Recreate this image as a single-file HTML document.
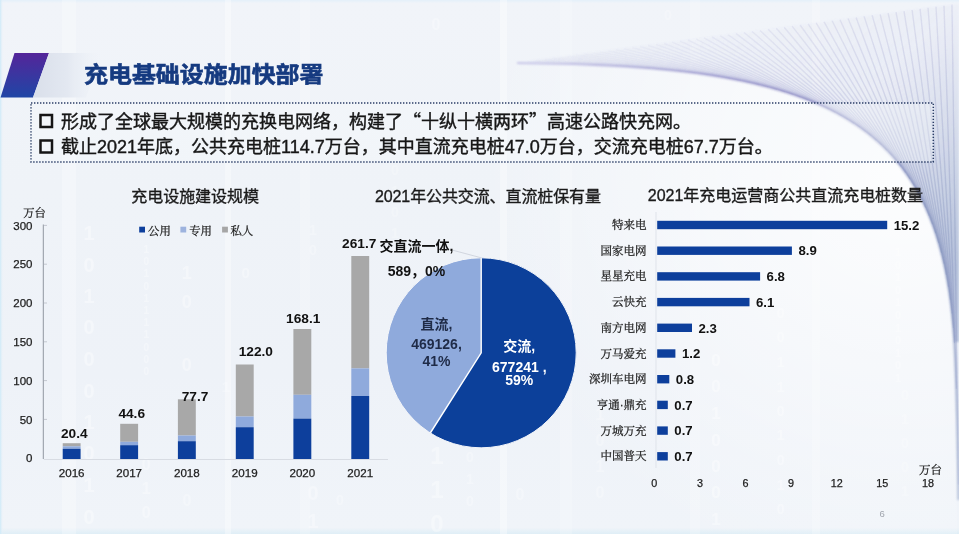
<!DOCTYPE html>
<html lang="zh"><head><meta charset="utf-8"><title>充电基础设施加快部署</title>
<style>
html,body{margin:0;padding:0;background:#eff3f8;}
body{width:959px;height:534px;overflow:hidden;position:relative;}
svg{display:block;position:absolute;left:0;top:0;filter:blur(0.5px);}
text{font-family:"Liberation Sans","Noto Sans CJK SC",sans-serif;paint-order:stroke;}
.t text{stroke:#1a1a1a;stroke-width:0.35px;}
.b{font-weight:bold;}
.s{font-family:"Liberation Sans","Noto Serif CJK SC","Noto Sans CJK SC",serif;}
.q{font-family:"Noto Sans CJK SC",sans-serif;}
</style></head><body>
<svg width="959" height="534" viewBox="0 0 959 534">
<defs>
<linearGradient id="bg" x1="0" y1="0" x2="0" y2="1">
<stop offset="0" stop-color="#e4f0fa"/><stop offset="0.006" stop-color="#f1f4f9"/><stop offset="0.35" stop-color="#eff3f8"/><stop offset="0.7" stop-color="#eef2f8"/><stop offset="0.988" stop-color="#f0f4f9"/><stop offset="1" stop-color="#dfeef6"/>
</linearGradient>
<linearGradient id="pg" x1="0" y1="0" x2="0" y2="1">
<stop offset="0" stop-color="#54259a"/><stop offset="0.5" stop-color="#3a36a0"/><stop offset="1" stop-color="#1f46a6"/>
</linearGradient>
<linearGradient id="sh" x1="0" y1="0" x2="1" y2="0">
<stop offset="0" stop-color="#d9dfea"/><stop offset="0.5" stop-color="#e3e8f1"/><stop offset="1" stop-color="#eef2f8" stop-opacity="0"/>
</linearGradient>
<linearGradient id="le" x1="0" y1="0" x2="1" y2="0">
<stop offset="0" stop-color="#cdeaf8"/><stop offset="1" stop-color="#eef2f8" stop-opacity="0"/>
</linearGradient>
<radialGradient id="fg" gradientUnits="userSpaceOnUse" cx="958" cy="230" r="430">
<stop offset="0" stop-color="#8090b8" stop-opacity="0.36"/><stop offset="0.5" stop-color="#8c8cc4" stop-opacity="0.19"/><stop offset="0.8" stop-color="#9494cc" stop-opacity="0.08"/><stop offset="1" stop-color="#9a9ad0" stop-opacity="0.01"/>
</radialGradient>
<linearGradient id="wg" gradientUnits="userSpaceOnUse" x1="700" y1="0" x2="960" y2="260">
<stop offset="0" stop-color="#c9c8e6" stop-opacity="0"/><stop offset="0.5" stop-color="#c4c6e4" stop-opacity="0.08"/><stop offset="0.8" stop-color="#b0bcd8" stop-opacity="0.5"/><stop offset="1" stop-color="#a8b6d4" stop-opacity="0.8"/>
</linearGradient>
<radialGradient id="ug" gradientUnits="userSpaceOnUse" cx="900" cy="170" r="420">
<stop offset="0" stop-color="#ffffff" stop-opacity="0.85"/><stop offset="0.5" stop-color="#ffffff" stop-opacity="0.45"/><stop offset="1" stop-color="#ffffff" stop-opacity="0"/>
</radialGradient>
<linearGradient id="cs" gradientUnits="userSpaceOnUse" x1="517" y1="0" x2="959" y2="0">
<stop offset="0" stop-color="#aaa6dc"/><stop offset="0.6" stop-color="#8a86c2"/><stop offset="1" stop-color="#8496be"/>
</linearGradient>
<filter id="bl"><feGaussianBlur stdDeviation="0.5"/></filter>
<filter id="bl2"><feGaussianBlur stdDeviation="1.2"/></filter>
</defs>
<rect width="959" height="534" fill="url(#bg)"/>
<rect width="3.5" height="534" fill="url(#le)"/>

<g fill="#ffffff" text-anchor="middle" font-weight="bold" filter="url(#bl)">
<text x="89" y="240" font-size="20" fill-opacity="0.36">1</text>
<text x="89" y="272" font-size="20" fill-opacity="0.36">0</text>
<text x="89" y="303" font-size="20" fill-opacity="0.36">1</text>
<text x="89" y="334" font-size="20" fill-opacity="0.36">0</text>
<text x="89" y="366" font-size="20" fill-opacity="0.36">0</text>
<text x="89" y="398" font-size="20" fill-opacity="0.36">0</text>
<text x="89" y="429" font-size="20" fill-opacity="0.36">1</text>
<text x="89" y="460" font-size="20" fill-opacity="0.36">0</text>
<text x="89" y="492" font-size="20" fill-opacity="0.36">1</text>
<text x="89" y="524" font-size="20" fill-opacity="0.36">0</text>
<text x="146.2" y="253" font-size="10" fill-opacity="0.32">1</text>
<text x="146.2" y="265" font-size="10" fill-opacity="0.32">0</text>
<text x="146.2" y="277" font-size="10" fill-opacity="0.32">1</text>
<text x="146.2" y="290" font-size="10" fill-opacity="0.32">0</text>
<text x="146.2" y="302" font-size="10" fill-opacity="0.32">1</text>
<text x="146.2" y="314" font-size="10" fill-opacity="0.32">1</text>
<text x="146.2" y="326" font-size="10" fill-opacity="0.32">1</text>
<text x="146.2" y="338" font-size="10" fill-opacity="0.32">1</text>
<text x="146.2" y="351" font-size="10" fill-opacity="0.32">0</text>
<text x="146.2" y="363" font-size="10" fill-opacity="0.32">0</text>
<text x="146.2" y="375" font-size="10" fill-opacity="0.32">0</text>
<text x="146.2" y="470" font-size="16" fill-opacity="0.3">0</text>
<text x="146.2" y="494" font-size="16" fill-opacity="0.3">1</text>
<text x="146.2" y="518" font-size="16" fill-opacity="0.3">0</text>
<text x="186.7" y="279" font-size="18" fill-opacity="0.34">1</text>
<text x="186.7" y="308" font-size="18" fill-opacity="0.34">0</text>
<text x="186.7" y="371" font-size="18" fill-opacity="0.34">0</text>
<text x="187" y="480" font-size="16" fill-opacity="0.26">1</text>
<text x="187" y="506" font-size="16" fill-opacity="0.26">0</text>
<text x="245.7" y="278" font-size="15" fill-opacity="0.3">0</text>
<text x="226" y="392" font-size="15" fill-opacity="0.26">1</text>
<text x="313" y="235" font-size="14" fill-opacity="0.24">1</text>
<text x="313" y="255" font-size="14" fill-opacity="0.24">0</text>
<text x="313" y="500" font-size="20" fill-opacity="0.3">0</text>
<text x="313" y="528" font-size="20" fill-opacity="0.3">1</text>
<text x="340" y="505" font-size="14" fill-opacity="0.26">0</text>
<text x="395" y="175" font-size="14" fill-opacity="0.21">0</text>
<text x="395" y="196" font-size="14" fill-opacity="0.21">1</text>
<text x="395" y="217" font-size="14" fill-opacity="0.21">0</text>
<text x="395" y="238" font-size="14" fill-opacity="0.21">1</text>
<text x="437" y="430" font-size="24" fill-opacity="0.34">0</text>
<text x="437" y="464" font-size="24" fill-opacity="0.34">1</text>
<text x="437" y="498" font-size="24" fill-opacity="0.34">1</text>
<text x="437" y="532" font-size="24" fill-opacity="0.34">0</text>
<text x="470" y="440" font-size="14" fill-opacity="0.26">1</text>
<text x="470" y="462" font-size="14" fill-opacity="0.26">0</text>
<text x="470" y="484" font-size="14" fill-opacity="0.26">1</text>
<text x="470" y="506" font-size="14" fill-opacity="0.26">0</text>
<text x="520" y="500" font-size="16" fill-opacity="0.26">0</text>
<text x="600" y="420" font-size="16" fill-opacity="0.24">1</text>
<text x="600" y="446" font-size="16" fill-opacity="0.24">0</text>
<text x="600" y="472" font-size="16" fill-opacity="0.24">1</text>
<text x="600" y="498" font-size="16" fill-opacity="0.24">0</text>
<text x="716" y="366" font-size="17" fill-opacity="0.36">0</text>
<text x="716" y="392" font-size="17" fill-opacity="0.36">0</text>
<text x="716" y="419" font-size="17" fill-opacity="0.36">1</text>
<text x="716" y="446" font-size="17" fill-opacity="0.36">0</text>
<text x="716" y="472" font-size="17" fill-opacity="0.36">0</text>
<text x="716" y="498" font-size="17" fill-opacity="0.36">0</text>
<text x="716" y="525" font-size="17" fill-opacity="0.36">1</text>
<text x="780.6" y="318" font-size="14" fill-opacity="0.31">0</text>
<text x="780.6" y="342" font-size="14" fill-opacity="0.31">0</text>
<text x="780.6" y="367" font-size="14" fill-opacity="0.31">1</text>
<text x="780.6" y="392" font-size="14" fill-opacity="0.31">1</text>
<text x="780.6" y="416" font-size="14" fill-opacity="0.31">0</text>
<text x="780.6" y="440" font-size="14" fill-opacity="0.31">1</text>
<text x="780.6" y="465" font-size="14" fill-opacity="0.31">0</text>
<text x="780.6" y="490" font-size="14" fill-opacity="0.31">1</text>
<text x="780.6" y="514" font-size="14" fill-opacity="0.31">0</text>
<text x="898" y="256" font-size="11" fill-opacity="0.31">1</text>
<text x="898" y="269" font-size="11" fill-opacity="0.31">0</text>
<text x="898" y="281" font-size="11" fill-opacity="0.31">1</text>
<text x="898" y="294" font-size="11" fill-opacity="0.31">0</text>
<text x="898" y="306" font-size="11" fill-opacity="0.31">1</text>
<text x="898" y="319" font-size="11" fill-opacity="0.31">0</text>
<text x="898" y="332" font-size="11" fill-opacity="0.31">1</text>
<text x="898" y="344" font-size="11" fill-opacity="0.31">0</text>
<text x="898" y="357" font-size="11" fill-opacity="0.31">1</text>
<text x="898" y="369" font-size="11" fill-opacity="0.31">0</text>
<text x="898" y="382" font-size="11" fill-opacity="0.31">1</text>
<text x="905" y="400" font-size="14" fill-opacity="0.21">0</text>
<text x="905" y="424" font-size="14" fill-opacity="0.21">1</text>
<text x="905" y="448" font-size="14" fill-opacity="0.21">0</text>
<text x="905" y="472" font-size="14" fill-opacity="0.21">0</text>
<text x="905" y="496" font-size="14" fill-opacity="0.21">1</text>
<text x="436" y="30" font-size="16" fill-opacity="0.26">0</text>
<text x="668" y="20" font-size="14" fill-opacity="0.21">0</text>
</g>
<g fill="#ffffff">
<rect x="62" y="0" width="14" height="534" fill-opacity="0.25"/>
<rect x="225" y="0" width="6" height="534" fill-opacity="0.35"/>
<rect x="300" y="0" width="10" height="534" fill-opacity="0.2"/>
<rect x="500" y="0" width="7" height="534" fill-opacity="0.35"/>
<rect x="560" y="0" width="12" height="534" fill-opacity="0.18"/>
<rect x="690" y="0" width="10" height="534" fill-opacity="0.2"/>
<rect x="812" y="0" width="8" height="534" fill-opacity="0.22"/>
</g>
<path d="M517,63 C821.8,65.1 941.4,114.1 954.4,342.1 L957,534 L380,534 L380,63 Z" fill="url(#ug)"/>
<path d="M517,63 C821.8,65.1 941.4,114.1 954.4,342.1 L959,342 L959,3.7 Z" fill="url(#wg)" filter="url(#bl2)"/>
<g stroke="#8c8cc8" stroke-width="1.0" fill="none" stroke-opacity="0.035" filter="url(#bl2)">
<line x1="604.6" y1="65.2" x2="528.0" y2="61.5"/>
<line x1="610.4" y1="65.5" x2="529.7" y2="61.3"/>
<line x1="615.7" y1="65.8" x2="531.2" y2="61.1"/>
<line x1="620.7" y1="66.1" x2="532.8" y2="60.9"/>
<line x1="625.6" y1="66.4" x2="534.5" y2="60.7"/>
<line x1="630.0" y1="66.7" x2="536.0" y2="60.4"/>
<line x1="634.3" y1="67.0" x2="537.6" y2="60.2"/>
<line x1="638.4" y1="67.3" x2="539.2" y2="60.0"/>
<line x1="642.4" y1="67.6" x2="540.8" y2="59.8"/>
<line x1="646.4" y1="67.9" x2="542.5" y2="59.6"/>
<line x1="650.1" y1="68.2" x2="544.1" y2="59.4"/>
<line x1="653.6" y1="68.5" x2="545.6" y2="59.2"/>
<line x1="657.0" y1="68.8" x2="547.2" y2="58.9"/>
<line x1="660.4" y1="69.1" x2="548.8" y2="58.7"/>
<line x1="663.8" y1="69.4" x2="550.5" y2="58.5"/>
<line x1="666.9" y1="69.7" x2="552.0" y2="58.3"/>
<line x1="670.3" y1="70.1" x2="553.7" y2="58.1"/>
<line x1="673.1" y1="70.4" x2="555.2" y2="57.9"/>
<line x1="676.2" y1="70.7" x2="556.8" y2="57.7"/>
<line x1="679.2" y1="71.0" x2="558.5" y2="57.4"/>
<line x1="682.0" y1="71.4" x2="560.1" y2="57.2"/>
<line x1="684.8" y1="71.7" x2="561.7" y2="57.0"/>
<line x1="687.5" y1="72.0" x2="563.3" y2="56.8"/>
<line x1="690.3" y1="72.4" x2="564.9" y2="56.6"/>
<line x1="692.8" y1="72.7" x2="566.4" y2="56.4"/>
<line x1="695.5" y1="73.0" x2="568.1" y2="56.1"/>
<line x1="698.0" y1="73.4" x2="569.6" y2="55.9"/>
<line x1="700.7" y1="73.7" x2="571.3" y2="55.7"/>
<line x1="703.1" y1="74.1" x2="572.9" y2="55.5"/>
<line x1="705.5" y1="74.4" x2="574.5" y2="55.3"/>
<line x1="708.0" y1="74.8" x2="576.1" y2="55.1"/>
<line x1="710.4" y1="75.2" x2="577.7" y2="54.9"/>
<line x1="712.5" y1="75.5" x2="579.2" y2="54.7"/>
<line x1="714.9" y1="75.9" x2="580.9" y2="54.4"/>
<line x1="717.3" y1="76.3" x2="582.5" y2="54.2"/>
<line x1="719.4" y1="76.6" x2="584.0" y2="54.0"/>
<line x1="721.8" y1="77.0" x2="585.7" y2="53.8"/>
<line x1="723.9" y1="77.4" x2="587.3" y2="53.6"/>
<line x1="726.0" y1="77.7" x2="588.8" y2="53.4"/>
<line x1="728.3" y1="78.2" x2="590.6" y2="53.1"/>
<line x1="730.4" y1="78.5" x2="592.1" y2="52.9"/>
<line x1="732.4" y1="78.9" x2="593.7" y2="52.7"/>
<line x1="734.5" y1="79.3" x2="595.3" y2="52.5"/>
<line x1="736.6" y1="79.7" x2="596.9" y2="52.3"/>
<line x1="738.6" y1="80.1" x2="598.5" y2="52.1"/>
<line x1="740.4" y1="80.5" x2="600.0" y2="51.9"/>
<line x1="742.4" y1="80.9" x2="601.6" y2="51.6"/>
<line x1="744.4" y1="81.3" x2="603.3" y2="51.4"/>
<line x1="746.4" y1="81.8" x2="604.9" y2="51.2"/>
<line x1="748.2" y1="82.1" x2="606.4" y2="51.0"/>
<line x1="750.2" y1="82.6" x2="608.1" y2="50.8"/>
<line x1="752.2" y1="83.0" x2="609.7" y2="50.6"/>
<line x1="753.9" y1="83.4" x2="611.2" y2="50.4"/>
<line x1="755.9" y1="83.9" x2="612.9" y2="50.1"/>
<line x1="757.6" y1="84.3" x2="614.4" y2="49.9"/>
<line x1="759.5" y1="84.8" x2="616.1" y2="49.7"/>
<line x1="761.3" y1="85.2" x2="617.7" y2="49.5"/>
<line x1="763.0" y1="85.6" x2="619.2" y2="49.3"/>
<line x1="764.9" y1="86.1" x2="620.9" y2="49.1"/>
<line x1="766.6" y1="86.5" x2="622.5" y2="48.8"/>
<line x1="768.3" y1="87.0" x2="624.0" y2="48.6"/>
<line x1="770.1" y1="87.5" x2="625.7" y2="48.4"/>
<line x1="771.8" y1="88.0" x2="627.3" y2="48.2"/>
<line x1="773.5" y1="88.4" x2="628.9" y2="48.0"/>
<line x1="775.1" y1="88.9" x2="630.4" y2="47.8"/>
<line x1="776.9" y1="89.4" x2="632.2" y2="47.5"/>
<line x1="778.6" y1="89.9" x2="633.7" y2="47.3"/>
<line x1="780.2" y1="90.4" x2="635.3" y2="47.1"/>
<line x1="781.8" y1="90.8" x2="636.9" y2="46.9"/>
<line x1="783.4" y1="91.3" x2="638.5" y2="46.7"/>
<line x1="785.0" y1="91.8" x2="640.1" y2="46.5"/>
<line x1="786.6" y1="92.3" x2="641.7" y2="46.3"/>
<line x1="788.2" y1="92.8" x2="643.3" y2="46.1"/>
<line x1="789.8" y1="93.4" x2="644.9" y2="45.8"/>
<line x1="791.3" y1="93.9" x2="646.5" y2="45.6"/>
<line x1="792.9" y1="94.4" x2="648.1" y2="45.4"/>
<line x1="794.5" y1="94.9" x2="649.7" y2="45.2"/>
<line x1="796.0" y1="95.5" x2="651.3" y2="45.0"/>
<line x1="797.5" y1="96.0" x2="652.9" y2="44.8"/>
<line x1="799.1" y1="96.5" x2="654.5" y2="44.5"/>
<line x1="800.6" y1="97.1" x2="656.1" y2="44.3"/>
<line x1="802.1" y1="97.7" x2="657.7" y2="44.1"/>
<line x1="803.6" y1="98.2" x2="659.3" y2="43.9"/>
<line x1="805.1" y1="98.8" x2="660.9" y2="43.7"/>
<line x1="806.6" y1="99.4" x2="662.6" y2="43.5"/>
<line x1="807.9" y1="99.9" x2="664.0" y2="43.3"/>
<line x1="809.4" y1="100.4" x2="665.6" y2="43.1"/>
<line x1="810.8" y1="101.0" x2="667.2" y2="42.8"/>
<line x1="812.3" y1="101.6" x2="668.9" y2="42.6"/>
<line x1="813.7" y1="102.2" x2="670.5" y2="42.4"/>
<line x1="815.1" y1="102.8" x2="672.1" y2="42.2"/>
<line x1="816.6" y1="103.4" x2="673.7" y2="42.0"/>
<line x1="818.0" y1="104.1" x2="675.4" y2="41.7"/>
<line x1="819.3" y1="104.6" x2="676.8" y2="41.6"/>
<line x1="820.7" y1="105.2" x2="678.4" y2="41.3"/>
<line x1="822.1" y1="105.9" x2="680.1" y2="41.1"/>
<line x1="823.4" y1="106.5" x2="681.7" y2="40.9"/>
<line x1="824.8" y1="107.2" x2="683.3" y2="40.7"/>
<line x1="826.2" y1="107.8" x2="684.9" y2="40.5"/>
<line x1="827.6" y1="108.5" x2="686.6" y2="40.2"/>
<line x1="828.8" y1="109.0" x2="688.0" y2="40.0"/>
<line x1="830.1" y1="109.7" x2="689.6" y2="39.8"/>
<line x1="831.5" y1="110.4" x2="691.3" y2="39.6"/>
<line x1="832.8" y1="111.1" x2="692.9" y2="39.4"/>
<line x1="834.1" y1="111.7" x2="694.5" y2="39.2"/>
<line x1="835.4" y1="112.4" x2="696.2" y2="39.0"/>
<line x1="836.6" y1="113.1" x2="697.6" y2="38.8"/>
<line x1="837.9" y1="113.8" x2="699.2" y2="38.5"/>
<line x1="839.2" y1="114.5" x2="700.8" y2="38.3"/>
<line x1="840.5" y1="115.2" x2="702.5" y2="38.1"/>
<line x1="841.8" y1="115.9" x2="704.1" y2="37.9"/>
<line x1="843.0" y1="116.6" x2="705.7" y2="37.7"/>
<line x1="844.3" y1="117.3" x2="707.3" y2="37.5"/>
<line x1="845.5" y1="118.1" x2="709.0" y2="37.2"/>
<line x1="846.8" y1="118.8" x2="710.6" y2="37.0"/>
<line x1="847.9" y1="119.5" x2="712.0" y2="36.8"/>
<line x1="849.1" y1="120.2" x2="713.6" y2="36.6"/>
<line x1="850.3" y1="121.0" x2="715.2" y2="36.4"/>
<line x1="851.6" y1="121.8" x2="716.9" y2="36.2"/>
<line x1="852.8" y1="122.5" x2="718.5" y2="36.0"/>
<line x1="854.0" y1="123.3" x2="720.1" y2="35.7"/>
<line x1="855.2" y1="124.1" x2="721.7" y2="35.5"/>
<line x1="856.3" y1="124.9" x2="723.3" y2="35.3"/>
<line x1="857.5" y1="125.7" x2="724.9" y2="35.1"/>
<line x1="858.7" y1="126.5" x2="726.5" y2="34.9"/>
<line x1="859.9" y1="127.3" x2="728.1" y2="34.7"/>
<line x1="861.0" y1="128.1" x2="729.7" y2="34.5"/>
<line x1="862.2" y1="129.0" x2="731.3" y2="34.2"/>
<line x1="863.3" y1="129.8" x2="732.9" y2="34.0"/>
<line x1="864.4" y1="130.6" x2="734.5" y2="33.8"/>
<line x1="865.6" y1="131.5" x2="736.1" y2="33.6"/>
<line x1="866.7" y1="132.3" x2="737.7" y2="33.4"/>
<line x1="867.8" y1="133.2" x2="739.3" y2="33.2"/>
<line x1="868.9" y1="134.0" x2="740.9" y2="33.0"/>
<line x1="870.0" y1="134.9" x2="742.5" y2="32.7"/>
<line x1="871.1" y1="135.8" x2="744.0" y2="32.5"/>
<line x1="872.1" y1="136.7" x2="745.6" y2="32.3"/>
<line x1="873.3" y1="137.7" x2="747.4" y2="32.1"/>
<line x1="874.4" y1="138.6" x2="748.9" y2="31.9"/>
<line x1="875.4" y1="139.5" x2="750.5" y2="31.7"/>
<line x1="876.5" y1="140.4" x2="752.1" y2="31.5"/>
<line x1="877.5" y1="141.3" x2="753.7" y2="31.2"/>
<line x1="878.6" y1="142.2" x2="755.2" y2="31.0"/>
<line x1="879.7" y1="143.2" x2="757.0" y2="30.8"/>
<line x1="880.7" y1="144.2" x2="758.5" y2="30.6"/>
<line x1="881.7" y1="145.1" x2="760.1" y2="30.4"/>
<line x1="882.7" y1="146.1" x2="761.6" y2="30.2"/>
<line x1="883.8" y1="147.1" x2="763.3" y2="29.9"/>
<line x1="884.8" y1="148.1" x2="764.9" y2="29.7"/>
<line x1="885.8" y1="149.1" x2="766.4" y2="29.5"/>
<line x1="886.9" y1="150.2" x2="768.2" y2="29.3"/>
<line x1="887.8" y1="151.1" x2="769.7" y2="29.1"/>
<line x1="888.8" y1="152.1" x2="771.2" y2="28.9"/>
<line x1="889.8" y1="153.3" x2="772.9" y2="28.7"/>
<line x1="890.8" y1="154.3" x2="774.5" y2="28.4"/>
<line x1="891.8" y1="155.4" x2="776.2" y2="28.2"/>
<line x1="892.7" y1="156.4" x2="777.7" y2="28.0"/>
<line x1="893.6" y1="157.4" x2="779.2" y2="27.8"/>
<line x1="894.6" y1="158.6" x2="780.9" y2="27.6"/>
<line x1="895.6" y1="159.8" x2="782.6" y2="27.4"/>
<line x1="896.5" y1="160.8" x2="784.1" y2="27.2"/>
<line x1="897.5" y1="162.0" x2="785.8" y2="26.9"/>
<line x1="898.4" y1="163.1" x2="787.3" y2="26.7"/>
<line x1="899.4" y1="164.3" x2="788.9" y2="26.5"/>
<line x1="900.2" y1="165.3" x2="790.4" y2="26.3"/>
<line x1="901.2" y1="166.5" x2="792.1" y2="26.1"/>
<line x1="902.1" y1="167.8" x2="793.7" y2="25.9"/>
<line x1="903.0" y1="168.9" x2="795.2" y2="25.7"/>
<line x1="903.9" y1="170.1" x2="796.9" y2="25.4"/>
<line x1="904.8" y1="171.4" x2="798.5" y2="25.2"/>
<line x1="905.7" y1="172.6" x2="800.1" y2="25.0"/>
<line x1="906.5" y1="173.8" x2="801.6" y2="24.8"/>
<line x1="907.4" y1="175.0" x2="803.2" y2="24.6"/>
<line x1="908.3" y1="176.3" x2="804.9" y2="24.4"/>
<line x1="909.1" y1="177.6" x2="806.5" y2="24.2"/>
<line x1="910.0" y1="178.9" x2="808.1" y2="23.9"/>
<line x1="910.9" y1="180.2" x2="809.7" y2="23.7"/>
<line x1="911.7" y1="181.5" x2="811.3" y2="23.5"/>
<line x1="912.5" y1="182.9" x2="812.9" y2="23.3"/>
<line x1="913.4" y1="184.2" x2="814.5" y2="23.1"/>
<line x1="914.2" y1="185.5" x2="816.1" y2="22.9"/>
<line x1="915.0" y1="186.9" x2="817.7" y2="22.6"/>
<line x1="915.8" y1="188.3" x2="819.3" y2="22.4"/>
<line x1="916.6" y1="189.6" x2="820.8" y2="22.2"/>
<line x1="917.4" y1="191.0" x2="822.4" y2="22.0"/>
<line x1="918.2" y1="192.6" x2="824.1" y2="21.8"/>
<line x1="919.0" y1="194.0" x2="825.7" y2="21.6"/>
<line x1="919.8" y1="195.4" x2="827.3" y2="21.4"/>
<line x1="920.5" y1="196.8" x2="828.8" y2="21.2"/>
<line x1="921.3" y1="198.4" x2="830.5" y2="20.9"/>
<line x1="922.1" y1="199.8" x2="832.1" y2="20.7"/>
<line x1="922.8" y1="201.3" x2="833.6" y2="20.5"/>
<line x1="923.6" y1="202.9" x2="835.3" y2="20.3"/>
<line x1="924.3" y1="204.4" x2="836.8" y2="20.1"/>
<line x1="925.1" y1="206.0" x2="838.5" y2="19.9"/>
<line x1="925.7" y1="207.5" x2="840.0" y2="19.7"/>
<line x1="926.5" y1="209.2" x2="841.7" y2="19.4"/>
<line x1="927.2" y1="210.8" x2="843.3" y2="19.2"/>
<line x1="927.9" y1="212.3" x2="844.8" y2="19.0"/>
<line x1="928.6" y1="214.0" x2="846.5" y2="18.8"/>
<line x1="929.3" y1="215.7" x2="848.1" y2="18.6"/>
<line x1="929.9" y1="217.3" x2="849.6" y2="18.4"/>
<line x1="930.6" y1="219.0" x2="851.2" y2="18.1"/>
<line x1="931.3" y1="220.8" x2="852.9" y2="17.9"/>
<line x1="932.0" y1="222.5" x2="854.5" y2="17.7"/>
<line x1="932.6" y1="224.3" x2="856.1" y2="17.5"/>
<line x1="933.3" y1="226.0" x2="857.7" y2="17.3"/>
<line x1="933.9" y1="227.8" x2="859.3" y2="17.1"/>
<line x1="934.6" y1="229.6" x2="860.9" y2="16.9"/>
<line x1="935.2" y1="231.4" x2="862.5" y2="16.6"/>
<line x1="935.8" y1="233.3" x2="864.1" y2="16.4"/>
<line x1="936.4" y1="235.1" x2="865.6" y2="16.2"/>
<line x1="937.0" y1="237.1" x2="867.3" y2="16.0"/>
<line x1="937.6" y1="239.0" x2="868.9" y2="15.8"/>
<line x1="938.2" y1="240.9" x2="870.5" y2="15.6"/>
<line x1="938.8" y1="242.9" x2="872.1" y2="15.3"/>
<line x1="939.4" y1="244.8" x2="873.7" y2="15.1"/>
<line x1="939.9" y1="246.7" x2="875.2" y2="14.9"/>
<line x1="940.5" y1="248.8" x2="876.9" y2="14.7"/>
<line x1="941.0" y1="250.8" x2="878.4" y2="14.5"/>
<line x1="941.6" y1="252.9" x2="880.1" y2="14.3"/>
<line x1="942.1" y1="255.1" x2="881.7" y2="14.1"/>
<line x1="942.6" y1="257.2" x2="883.3" y2="13.8"/>
<line x1="943.1" y1="259.2" x2="884.8" y2="13.6"/>
<line x1="943.6" y1="261.4" x2="886.4" y2="13.4"/>
<line x1="944.1" y1="263.6" x2="888.1" y2="13.2"/>
<line x1="944.6" y1="265.8" x2="889.7" y2="13.0"/>
<line x1="945.1" y1="268.1" x2="891.3" y2="12.8"/>
<line x1="945.6" y1="270.3" x2="892.9" y2="12.6"/>
<line x1="946.0" y1="272.6" x2="894.4" y2="12.3"/>
<line x1="946.5" y1="274.9" x2="896.0" y2="12.1"/>
<line x1="946.9" y1="277.4" x2="897.7" y2="11.9"/>
<line x1="947.4" y1="279.7" x2="899.3" y2="11.7"/>
<line x1="947.8" y1="282.0" x2="900.8" y2="11.5"/>
<line x1="948.2" y1="284.6" x2="902.5" y2="11.3"/>
<line x1="948.6" y1="287.0" x2="904.0" y2="11.1"/>
<line x1="949.0" y1="289.5" x2="905.7" y2="10.8"/>
<line x1="949.4" y1="292.0" x2="907.2" y2="10.6"/>
<line x1="949.8" y1="294.6" x2="908.8" y2="10.4"/>
<line x1="950.1" y1="297.2" x2="910.5" y2="10.2"/>
<line x1="950.5" y1="299.9" x2="912.1" y2="10.0"/>
<line x1="950.8" y1="302.6" x2="913.7" y2="9.8"/>
<line x1="951.2" y1="305.2" x2="915.3" y2="9.5"/>
<line x1="951.5" y1="308.0" x2="916.9" y2="9.3"/>
<line x1="951.8" y1="310.7" x2="918.5" y2="9.1"/>
<line x1="952.1" y1="313.5" x2="920.1" y2="8.9"/>
<line x1="952.4" y1="316.2" x2="921.6" y2="8.7"/>
<line x1="952.7" y1="319.2" x2="923.3" y2="8.5"/>
<line x1="952.9" y1="322.1" x2="924.8" y2="8.3"/>
<line x1="953.2" y1="325.1" x2="926.5" y2="8.0"/>
<line x1="953.4" y1="328.0" x2="928.0" y2="7.8"/>
<line x1="953.7" y1="331.1" x2="929.7" y2="7.6"/>
<line x1="953.9" y1="334.2" x2="931.3" y2="7.4"/>
<line x1="954.1" y1="337.3" x2="932.9" y2="7.2"/>
<line x1="954.3" y1="340.5" x2="934.5" y2="7.0"/>
<line x1="954.5" y1="343.1" x2="936.0" y2="6.8"/>
<line x1="954.8" y1="349.8" x2="937.6" y2="6.6"/>
<line x1="955.2" y1="357.5" x2="939.2" y2="6.3"/>
<line x1="955.6" y1="366.4" x2="940.8" y2="6.1"/>
<line x1="956.0" y1="376.7" x2="942.4" y2="5.9"/>
<line x1="956.4" y1="388.7" x2="944.0" y2="5.7"/>
<line x1="956.8" y1="402.5" x2="945.6" y2="5.5"/>
<line x1="957.2" y1="418.7" x2="947.2" y2="5.3"/>
<line x1="957.6" y1="437.4" x2="948.8" y2="5.1"/>
<line x1="958.0" y1="459.2" x2="950.4" y2="4.8"/>
<line x1="958.4" y1="484.4" x2="952.0" y2="4.6"/>
</g>
<g stroke="url(#fg)" stroke-width="1.4" fill="none" filter="url(#bl)">
<line x1="604.6" y1="65.2" x2="528.0" y2="61.5"/>
<line x1="630.0" y1="66.7" x2="536.0" y2="60.4"/>
<line x1="650.1" y1="68.2" x2="544.1" y2="59.4"/>
<line x1="666.9" y1="69.7" x2="552.0" y2="58.3"/>
<line x1="682.0" y1="71.4" x2="560.1" y2="57.2"/>
<line x1="695.5" y1="73.0" x2="568.1" y2="56.1"/>
<line x1="708.0" y1="74.8" x2="576.1" y2="55.1"/>
<line x1="719.4" y1="76.6" x2="584.0" y2="54.0"/>
<line x1="730.4" y1="78.5" x2="592.1" y2="52.9"/>
<line x1="740.4" y1="80.5" x2="600.0" y2="51.9"/>
<line x1="750.2" y1="82.6" x2="608.1" y2="50.8"/>
<line x1="759.5" y1="84.8" x2="616.1" y2="49.7"/>
<line x1="768.3" y1="87.0" x2="624.0" y2="48.6"/>
<line x1="776.9" y1="89.4" x2="632.2" y2="47.5"/>
<line x1="785.0" y1="91.8" x2="640.1" y2="46.5"/>
<line x1="792.9" y1="94.4" x2="648.1" y2="45.4"/>
<line x1="800.6" y1="97.1" x2="656.1" y2="44.3"/>
<line x1="807.9" y1="99.9" x2="664.0" y2="43.3"/>
<line x1="815.1" y1="102.8" x2="672.1" y2="42.2"/>
<line x1="822.1" y1="105.9" x2="680.1" y2="41.1"/>
<line x1="828.8" y1="109.0" x2="688.0" y2="40.0"/>
<line x1="835.4" y1="112.4" x2="696.2" y2="39.0"/>
<line x1="841.8" y1="115.9" x2="704.1" y2="37.9"/>
<line x1="847.9" y1="119.5" x2="712.0" y2="36.8"/>
<line x1="854.0" y1="123.3" x2="720.1" y2="35.7"/>
<line x1="859.9" y1="127.3" x2="728.1" y2="34.7"/>
<line x1="865.6" y1="131.5" x2="736.1" y2="33.6"/>
<line x1="871.1" y1="135.8" x2="744.0" y2="32.5"/>
<line x1="876.5" y1="140.4" x2="752.1" y2="31.5"/>
<line x1="881.7" y1="145.1" x2="760.1" y2="30.4"/>
<line x1="886.9" y1="150.2" x2="768.2" y2="29.3"/>
<line x1="891.8" y1="155.4" x2="776.2" y2="28.2"/>
<line x1="896.5" y1="160.8" x2="784.1" y2="27.2"/>
<line x1="901.2" y1="166.5" x2="792.1" y2="26.1"/>
<line x1="905.7" y1="172.6" x2="800.1" y2="25.0"/>
<line x1="910.0" y1="178.9" x2="808.1" y2="23.9"/>
<line x1="914.2" y1="185.5" x2="816.1" y2="22.9"/>
<line x1="918.2" y1="192.6" x2="824.1" y2="21.8"/>
<line x1="922.1" y1="199.8" x2="832.1" y2="20.7"/>
<line x1="925.7" y1="207.5" x2="840.0" y2="19.7"/>
<line x1="929.3" y1="215.7" x2="848.1" y2="18.6"/>
<line x1="932.6" y1="224.3" x2="856.1" y2="17.5"/>
<line x1="935.8" y1="233.3" x2="864.1" y2="16.4"/>
<line x1="938.8" y1="242.9" x2="872.1" y2="15.3"/>
<line x1="941.6" y1="252.9" x2="880.1" y2="14.3"/>
<line x1="944.1" y1="263.6" x2="888.1" y2="13.2"/>
<line x1="946.5" y1="274.9" x2="896.0" y2="12.1"/>
<line x1="948.6" y1="287.0" x2="904.0" y2="11.1"/>
<line x1="950.5" y1="299.9" x2="912.1" y2="10.0"/>
<line x1="952.1" y1="313.5" x2="920.1" y2="8.9"/>
<line x1="953.4" y1="328.0" x2="928.0" y2="7.8"/>
<line x1="954.5" y1="343.1" x2="936.0" y2="6.8"/>
<line x1="956.4" y1="388.7" x2="944.0" y2="5.7"/>
<line x1="958.4" y1="484.4" x2="952.0" y2="4.6"/>
</g>
<path d="M517,63 C821.8,65.1 941.4,114.1 954.4,342.1 Q957.4,396 958.6,500" fill="none" stroke="url(#cs)" stroke-opacity="0.6" stroke-width="2.2" filter="url(#bl2)"/>
<polygon points="14.5,53 49,53 33,97.5 0.5,97.5" fill="url(#pg)"/>
<polygon points="49,53 102,53 86,97.5 33,97.5" fill="url(#sh)"/>
<text class="b" x="84" y="82" font-size="22" fill="#153a80" stroke="#153a80" stroke-width="0.6" textLength="239.5" lengthAdjust="spacingAndGlyphs">充电基础设施加快部署</text>
<rect x="31" y="103" width="902.3" height="59" fill="#f6f8fc" fill-opacity="0.35" stroke="#2a3d66" stroke-width="1.5" stroke-dasharray="1.4,1.6"/>
<rect x="40.5" y="115" width="11.5" height="12" fill="none" stroke="#151515" stroke-width="2.5"/>
<rect x="40.5" y="140.5" width="11.5" height="12" fill="none" stroke="#151515" stroke-width="2.5"/>
<g font-size="18" fill="#161616" stroke="#161616" stroke-width="0.4">
<text x="61" y="127.5">形成了全球最大规模的充换电网络，构建了<tspan class="q">“</tspan>十纵十横两环<tspan class="q">”</tspan>高速公路快充网。</text>
<text x="61" y="153">截止2021年底，公共充电桩114.7万台，其中直流充电桩47.0万台，交流充电桩67.7万台。</text>
</g>
<g class="t" font-size="16" fill="#1a1a1a">
<text x="131.3" y="201.5" textLength="127.7">充电设施建设规模</text>
<text x="375" y="201.5" textLength="226">2021年公共交流、直流桩保有量</text>
<text x="647.8" y="201" textLength="275.3">2021年充电运营商公共直流充电桩数量</text>
</g>
<text class="s" x="34.6" y="216.6" font-size="11.3" fill="#1c1c1c" stroke="#1c1c1c" stroke-width="0.25" text-anchor="middle">万台</text>
<line x1="43.3" y1="224.5" x2="43.3" y2="459" stroke="#9096a0" stroke-width="1"/>
<line x1="43.8" y1="459.5" x2="388" y2="459.5" stroke="#d8dce3" stroke-width="1"/>
<text x="32.5" y="462.3" font-size="11.5" fill="#1c1c1c" stroke="#1c1c1c" stroke-width="0.25" text-anchor="end">0</text>
<text x="32.5" y="423.5" font-size="11.5" fill="#1c1c1c" stroke="#1c1c1c" stroke-width="0.25" text-anchor="end">50</text>
<line x1="44" y1="419.4" x2="47" y2="419.4" stroke="#c4c8d0" stroke-width="1"/>
<text x="32.5" y="384.7" font-size="11.5" fill="#1c1c1c" stroke="#1c1c1c" stroke-width="0.25" text-anchor="end">100</text>
<line x1="44" y1="380.6" x2="47" y2="380.6" stroke="#c4c8d0" stroke-width="1"/>
<text x="32.5" y="345.9" font-size="11.5" fill="#1c1c1c" stroke="#1c1c1c" stroke-width="0.25" text-anchor="end">150</text>
<line x1="44" y1="341.8" x2="47" y2="341.8" stroke="#c4c8d0" stroke-width="1"/>
<text x="32.5" y="307.1" font-size="11.5" fill="#1c1c1c" stroke="#1c1c1c" stroke-width="0.25" text-anchor="end">200</text>
<line x1="44" y1="303.0" x2="47" y2="303.0" stroke="#c4c8d0" stroke-width="1"/>
<text x="32.5" y="268.3" font-size="11.5" fill="#1c1c1c" stroke="#1c1c1c" stroke-width="0.25" text-anchor="end">250</text>
<line x1="44" y1="264.2" x2="47" y2="264.2" stroke="#c4c8d0" stroke-width="1"/>
<text x="32.5" y="229.5" font-size="11.5" fill="#1c1c1c" stroke="#1c1c1c" stroke-width="0.25" text-anchor="end">300</text>
<line x1="44" y1="225.4" x2="47" y2="225.4" stroke="#c4c8d0" stroke-width="1"/>
<rect x="139.2" y="226.7" width="5.8" height="5.8" fill="#0d3f9c"/><text class="s" x="148" y="235" font-size="11.4" fill="#1c1c1c" stroke="#1c1c1c" stroke-width="0.25">公用</text>
<rect x="180.4" y="226.7" width="5.8" height="5.8" fill="#9db3de"/><text class="s" x="189.2" y="235" font-size="11.4" fill="#1c1c1c" stroke="#1c1c1c" stroke-width="0.25">专用</text>
<rect x="222.1" y="226.7" width="5.8" height="5.8" fill="#a6a6a6"/><text class="s" x="230.4" y="235" font-size="11.4" fill="#1c1c1c" stroke="#1c1c1c" stroke-width="0.25">私人</text>
<rect x="62.7" y="443.2" width="17.9" height="3.1" fill="#a8a8a8"/>
<rect x="62.7" y="446.3" width="17.9" height="2.5" fill="#8faadc"/>
<rect x="62.7" y="448.8" width="17.9" height="10.2" fill="#0d3f9c"/>
<text class="b" x="74.3" y="438" font-size="13.7" fill="#111" text-anchor="middle">20.4</text>
<text x="71.65" y="477" font-size="11.6" fill="#1c1c1c" stroke="#1c1c1c" stroke-width="0.25" text-anchor="middle">2016</text>
<rect x="120.2" y="423.8" width="17.9" height="18.0" fill="#a8a8a8"/>
<rect x="120.2" y="441.8" width="17.9" height="3.4" fill="#8faadc"/>
<rect x="120.2" y="445.2" width="17.9" height="13.8" fill="#0d3f9c"/>
<text class="b" x="131.7" y="417.5" font-size="13.7" fill="#111" text-anchor="middle">44.6</text>
<text x="129.15" y="477" font-size="11.6" fill="#1c1c1c" stroke="#1c1c1c" stroke-width="0.25" text-anchor="middle">2017</text>
<rect x="177.9" y="399.3" width="17.9" height="36.2" fill="#a8a8a8"/>
<rect x="177.9" y="435.5" width="17.9" height="5.7" fill="#8faadc"/>
<rect x="177.9" y="441.2" width="17.9" height="17.8" fill="#0d3f9c"/>
<text class="b" x="195" y="400.5" font-size="13.7" fill="#111" text-anchor="middle">77.7</text>
<text x="186.85" y="477" font-size="11.6" fill="#1c1c1c" stroke="#1c1c1c" stroke-width="0.25" text-anchor="middle">2018</text>
<rect x="235.8" y="364.5" width="17.9" height="52.0" fill="#a8a8a8"/>
<rect x="235.8" y="416.5" width="17.9" height="10.7" fill="#8faadc"/>
<rect x="235.8" y="427.2" width="17.9" height="31.8" fill="#0d3f9c"/>
<text class="b" x="255.8" y="356.2" font-size="13.7" fill="#111" text-anchor="middle">122.0</text>
<text x="244.75" y="477" font-size="11.6" fill="#1c1c1c" stroke="#1c1c1c" stroke-width="0.25" text-anchor="middle">2019</text>
<rect x="293.4" y="329" width="17.9" height="65.8" fill="#a8a8a8"/>
<rect x="293.4" y="394.8" width="17.9" height="23.8" fill="#8faadc"/>
<rect x="293.4" y="418.6" width="17.9" height="40.4" fill="#0d3f9c"/>
<text class="b" x="303.2" y="323.3" font-size="13.7" fill="#111" text-anchor="middle">168.1</text>
<text x="302.34999999999997" y="477" font-size="11.6" fill="#1c1c1c" stroke="#1c1c1c" stroke-width="0.25" text-anchor="middle">2020</text>
<rect x="351.3" y="256" width="17.9" height="112.4" fill="#a8a8a8"/>
<rect x="351.3" y="368.4" width="17.9" height="27.6" fill="#8faadc"/>
<rect x="351.3" y="396" width="17.9" height="63.0" fill="#0d3f9c"/>
<text class="b" x="359.2" y="248" font-size="13.7" fill="#111" text-anchor="middle">261.7</text>
<text x="360.25" y="477" font-size="11.6" fill="#1c1c1c" stroke="#1c1c1c" stroke-width="0.25" text-anchor="middle">2021</text>
<circle cx="481.2" cy="352.8" r="95" fill="#8faadc"/>
<path d="M481.2,352.8 L481.2,257.8 A95,95 0 1 1 430.3,433.0 Z" fill="#0c409a"/>
<path d="M481.2,257.8 L481.2,352.8 L430.3,433.0" fill="none" stroke="#fff" stroke-width="1.4"/>
<circle cx="481.2" cy="352.8" r="95" fill="none" stroke="#f4f6fa" stroke-width="1"/>
<line x1="452" y1="250" x2="481.2" y2="257.8" stroke="#c9ced8" stroke-width="0.8"/>
<g class="b" font-size="14" text-anchor="middle">
<text x="416.5" y="250.5" fill="#111">交直流一体,</text>
<text x="416.5" y="275.5" fill="#111">589，0%</text>
<text x="436.5" y="329.2" fill="#1f2b47">直流,</text>
<text x="436.5" y="349.2" fill="#1f2b47">469126,</text>
<text x="436.5" y="365.6" fill="#1f2b47">41%</text>
<text x="519.3" y="351" fill="#fff">交流,</text>
<text x="519.3" y="371.5" fill="#fff">677241 ,</text>
<text x="519.3" y="385.3" fill="#fff">59%</text>
</g>
<line x1="656" y1="212" x2="656" y2="468" stroke="#dfe3ea" stroke-width="1"/>
<rect x="657.2" y="220.8" width="230.0" height="8.4" fill="#0d3f9c"/>
<text class="s" x="646.5" y="229.0" font-size="11.5" fill="#1c1c1c" stroke="#1c1c1c" stroke-width="0.25" text-anchor="end">特来电</text>
<text class="b" x="893.7" y="229.7" font-size="13.2" fill="#111">15.2</text>
<rect x="657.2" y="246.5" width="134.7" height="8.4" fill="#0d3f9c"/>
<text class="s" x="646.5" y="254.7" font-size="11.5" fill="#1c1c1c" stroke="#1c1c1c" stroke-width="0.25" text-anchor="end">国家电网</text>
<text class="b" x="798.4" y="255.4" font-size="13.2" fill="#111">8.9</text>
<rect x="657.2" y="272.2" width="102.9" height="8.4" fill="#0d3f9c"/>
<text class="s" x="646.5" y="280.4" font-size="11.5" fill="#1c1c1c" stroke="#1c1c1c" stroke-width="0.25" text-anchor="end">星星充电</text>
<text class="b" x="766.6" y="281.1" font-size="13.2" fill="#111">6.8</text>
<rect x="657.2" y="297.9" width="92.3" height="8.4" fill="#0d3f9c"/>
<text class="s" x="646.5" y="306.1" font-size="11.5" fill="#1c1c1c" stroke="#1c1c1c" stroke-width="0.25" text-anchor="end">云快充</text>
<text class="b" x="756.0" y="306.8" font-size="13.2" fill="#111">6.1</text>
<rect x="657.2" y="323.6" width="34.8" height="8.4" fill="#0d3f9c"/>
<text class="s" x="646.5" y="331.8" font-size="11.5" fill="#1c1c1c" stroke="#1c1c1c" stroke-width="0.25" text-anchor="end">南方电网</text>
<text class="b" x="698.5" y="332.5" font-size="13.2" fill="#111">2.3</text>
<rect x="657.2" y="349.3" width="18.2" height="8.4" fill="#0d3f9c"/>
<text class="s" x="646.5" y="357.5" font-size="11.5" fill="#1c1c1c" stroke="#1c1c1c" stroke-width="0.25" text-anchor="end">万马爱充</text>
<text class="b" x="681.9" y="358.2" font-size="13.2" fill="#111">1.2</text>
<rect x="657.2" y="375.0" width="12.1" height="8.4" fill="#0d3f9c"/>
<text class="s" x="646.5" y="383.2" font-size="11.5" fill="#1c1c1c" stroke="#1c1c1c" stroke-width="0.25" text-anchor="end">深圳车电网</text>
<text class="b" x="675.8" y="383.9" font-size="13.2" fill="#111">0.8</text>
<rect x="657.2" y="400.7" width="10.6" height="8.4" fill="#0d3f9c"/>
<text class="s" x="646.5" y="408.9" font-size="11.5" fill="#1c1c1c" stroke="#1c1c1c" stroke-width="0.25" text-anchor="end">亨通·鼎充</text>
<text class="b" x="674.3" y="409.6" font-size="13.2" fill="#111">0.7</text>
<rect x="657.2" y="426.4" width="10.6" height="8.4" fill="#0d3f9c"/>
<text class="s" x="646.5" y="434.6" font-size="11.5" fill="#1c1c1c" stroke="#1c1c1c" stroke-width="0.25" text-anchor="end">万城万充</text>
<text class="b" x="674.3" y="435.3" font-size="13.2" fill="#111">0.7</text>
<rect x="657.2" y="452.1" width="10.6" height="8.4" fill="#0d3f9c"/>
<text class="s" x="646.5" y="460.3" font-size="11.5" fill="#1c1c1c" stroke="#1c1c1c" stroke-width="0.25" text-anchor="end">中国普天</text>
<text class="b" x="674.3" y="461.0" font-size="13.2" fill="#111">0.7</text>
<text x="654.3" y="486.5" font-size="10.8" fill="#1c1c1c" stroke="#1c1c1c" stroke-width="0.25" text-anchor="middle">0</text>
<text x="699.9" y="486.5" font-size="10.8" fill="#1c1c1c" stroke="#1c1c1c" stroke-width="0.25" text-anchor="middle">3</text>
<text x="745.5" y="486.5" font-size="10.8" fill="#1c1c1c" stroke="#1c1c1c" stroke-width="0.25" text-anchor="middle">6</text>
<text x="791.1" y="486.5" font-size="10.8" fill="#1c1c1c" stroke="#1c1c1c" stroke-width="0.25" text-anchor="middle">9</text>
<text x="836.7" y="486.5" font-size="10.8" fill="#1c1c1c" stroke="#1c1c1c" stroke-width="0.25" text-anchor="middle">12</text>
<text x="882.3" y="486.5" font-size="10.8" fill="#1c1c1c" stroke="#1c1c1c" stroke-width="0.25" text-anchor="middle">15</text>
<text x="927.9" y="486.5" font-size="10.8" fill="#1c1c1c" stroke="#1c1c1c" stroke-width="0.25" text-anchor="middle">18</text>
<text class="s" x="930.4" y="474" font-size="11.5" fill="#1c1c1c" stroke="#1c1c1c" stroke-width="0.25" text-anchor="middle">万台</text>
<text x="882.2" y="516.5" font-size="9.5" fill="#a0a5ae" text-anchor="middle">6</text>
</svg></body></html>
